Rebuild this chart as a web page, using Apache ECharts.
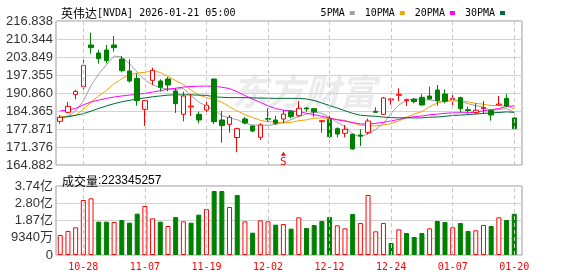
<!DOCTYPE html>
<html>
<head>
<meta charset="utf-8">
<title>英伟达 日K</title>
<script src="https://cdn.jsdelivr.net/npm/echarts@6/dist/echarts.min.js"></script>
<style>
    html, body { margin: 0; padding: 0; background: #fff; }
    #main { width: 578px; height: 276px; }
</style>
</head>
<body>
<div id="main"></div>
<script type="text/javascript">
    // 交易日
    var dates = ['10-23','10-24','10-27','10-28','10-29','10-30','10-31','11-03','11-04','11-05',
        '11-06','11-07','11-10','11-11','11-12','11-13','11-14','11-17','11-18','11-19',
        '11-20','11-21','11-24','11-25','11-26','11-28','12-01','12-02','12-03','12-04',
        '12-05','12-08','12-09','12-10','12-11','12-12','12-15','12-16','12-17','12-18',
        '12-19','12-22','12-23','12-24','12-26','12-29','12-30','12-31','01-02','01-05',
        '01-06','01-07','01-08','01-09','01-12','01-13','01-14','01-15','01-16','01-20'];
    var xTickLabels = ['10-28','11-07','11-19','12-02','12-12','12-24','01-07','01-20'];

    // K线 [开, 收, 低, 高]
    var kData = [
        [180.64,182.08,179.80,182.92],[183.89,186.05,183.53,187.61],[190.38,191.46,188.58,191.94],
        [193.15,200.84,192.06,203.13],[208.18,207.22,205.05,212.63],[205.29,203.25,201.45,206.38],
        [206.38,202.53,201.57,208.18],[208.18,207.22,205.77,211.43],[203.13,198.92,198.32,204.21],
        [198.80,195.19,194.59,203.01],[196.15,188.08,186.29,197.96],[184.97,188.15,178.96,188.40],
        [195.43,199.04,193.75,200.00],[195.19,192.91,191.34,195.79],[195.91,193.75,191.46,196.64],
        [191.58,187.01,183.65,192.55],[183.17,189.78,180.64,191.34],[185.81,186.17,182.56,190.50],
        [183.17,181.12,179.92,184.13],[184.73,186.41,182.92,187.73],[195.91,180.52,179.68,196.00],
        [181.12,179.08,172.94,184.37],[179.56,182.08,176.55,182.92],[174.80,178.00,169.50,178.30],
        [181.48,180.04,179.57,182.20],[178.96,177.15,176.68,179.10],[174.88,179.31,173.90,179.93],
        [181.60,181.40,180.50,185.34],[181.12,179.93,179.31,182.67],[181.48,183.28,179.93,184.73],
        [184.30,182.31,181.73,184.73],[182.68,185.33,182.32,187.98],[185.45,185.09,184.13,185.81],
        [185.21,184.01,182.32,185.40],[180.52,180.88,176.55,181.12],[181.36,175.11,174.62,182.80],
        [177.99,176.07,174.86,178.47],[176.31,177.75,174.86,179.31],[175.95,170.66,170.42,176.31],
        [175.71,175.35,171.74,177.75],[176.55,180.76,175.95,181.60],[184.25,183.89,183.80,185.69],
        [183.17,189.06,182.92,189.42],[188.34,188.70,186.65,188.94],[190.02,190.38,187.98,192.55],
        [188.10,188.46,186.17,188.82],[188.58,187.73,187.13,189.06],[189.30,186.53,186.40,190.50],
        [189.78,188.70,188.34,193.15],[191.94,188.12,186.29,193.75],[190.50,187.90,187.13,192.19],
        [188.58,188.94,186.53,190.98],[189.18,185.21,183.77,189.54],[184.85,184.55,183.53,185.93],
        [183.77,184.65,183.28,187.13],[185.21,185.57,183.28,187.98],[184.49,182.92,180.88,184.97],
        [186.53,186.89,186.40,189.78],[188.94,186.17,185.69,190.50],[181.84,177.99,177.75,182.08]
    ];

    // 成交量(股)
    var volumes = [108300000,129900000,149800000,297800000,306800000,180500000,180500000,178700000,189500000,175100000,
        223800000,265300000,198500000,180500000,157000000,205800000,182300000,175100000,218400000,249100000,
        346500000,346500000,259900000,324900000,182300000,120900000,187700000,182300000,164200000,167800000,
        142600000,204000000,146200000,162400000,184100000,205800000,160600000,144400000,222000000,173300000,
        324900000,128100000,173300000,65000000,139000000,119100000,97500000,119100000,144400000,184100000,
        178700000,149800000,173300000,129900000,133600000,162400000,157000000,204000000,189500000,223345257];
    var latestVolume = 223345257;

    // 均线
    var ma5 = [181.90,182.50,184.30,188.00,193.53,197.76,201.06,204.21,203.83,201.42,
        198.39,195.48,193.85,192.64,192.36,192.14,192.50,189.92,187.57,186.10,
        184.80,182.66,181.84,181.22,179.94,179.27,179.32,179.18,179.57,180.21,
        181.25,182.45,183.19,184.00,183.52,182.08,180.23,178.76,176.09,174.99,
        176.12,177.68,179.94,183.55,186.56,188.10,188.87,188.36,188.36,187.90,
        187.83,188.07,187.81,186.99,186.29,185.79,184.58,184.92,185.23,183.91];
    var ma10 = [182.25,182.50,182.90,184.90,187.60,189.80,191.80,194.20,196.00,197.48,
        198.08,198.27,199.03,198.24,196.89,195.27,193.99,191.89,190.11,189.23,
        188.47,187.58,185.88,184.39,183.02,182.04,180.99,180.51,180.39,180.08,
        180.26,180.88,181.18,181.79,181.87,181.67,181.34,180.98,180.05,179.26,
        179.10,178.96,179.35,179.82,180.77,182.11,183.27,184.15,185.96,187.23,
        187.97,188.47,188.09,187.68,187.10,186.81,186.33,186.37,186.11,185.10];
    var ma20 = [184.40,184.70,185.30,186.60,187.60,188.30,188.90,189.40,189.80,190.10,
        190.40,190.70,191.20,191.70,192.20,192.60,193.00,193.20,193.30,193.35,
        193.27,192.93,192.46,191.31,189.96,188.65,187.49,186.20,185.25,184.65,
        184.36,184.23,183.53,183.09,182.45,181.85,181.16,180.74,180.22,179.67,
        179.68,179.92,180.27,180.80,181.32,181.89,182.31,182.56,183.00,183.24,
        183.53,183.71,183.72,183.75,183.94,184.46,184.80,185.26,186.03,186.17];
    var ma30 = [182.00,182.30,182.80,183.40,184.30,185.30,186.20,187.00,187.70,188.20,
        188.70,189.10,189.50,189.80,190.10,190.20,190.20,190.20,190.10,190.00,
        189.50,189.30,189.20,189.20,189.20,189.10,189.00,189.00,188.90,188.93,
        188.94,188.91,188.70,188.14,187.26,186.32,185.44,184.46,183.52,182.85,
        182.61,182.47,182.14,182.00,181.89,181.94,181.87,181.88,182.13,182.19,
        182.44,182.77,182.87,183.09,183.25,183.53,183.65,183.83,184.04,183.86];

    // 信号点
    var signals = [{date: '12-04', price: 168.9, text: 'S'}];

    var priceMin = 164.882, priceMax = 216.838, priceStep = 6.4945;
    var volMax = 373600000, volStep = 93400000;

    var UP = '#ff0000', DOWN = '#008000';
    var monoFont = "'DejaVu Sans Mono', 'Noto Sans CJK SC', monospace";
    var sansFont = "'Liberation Sans', 'Noto Sans CJK SC', sans-serif";

    // 成交量颜色按收盘涨跌
    var volData = volumes.map(function (v, i) {
        var up = i === 0 ? kData[i][1] >= kData[i][0] : kData[i][1] >= kData[i - 1][1];
        return {
            value: v,
            itemStyle: up ? {color: '#fff', borderColor: UP, borderWidth: 1}
                          : {color: DOWN, borderColor: DOWN, borderWidth: 1}
        };
    });

    function volLabel(v) {
        if (v === 0) return '0';
        if (v >= 1e8) return (v / 1e8).toFixed(2) + '亿';
        return Math.round(v / 1e4) + '万';
    }

    var dashLines = {
        silent: true,
        symbol: 'none',
        label: {show: false},
        lineStyle: {color: '#c8c8c8', type: [4, 3], width: 1},
        data: xTickLabels.map(function (d) { return {xAxis: d}; })
    };

    function maSeries(name, data, color) {
        return {
            name: name, type: 'line', data: data,
            xAxisIndex: 1, yAxisIndex: 1,
            symbol: 'none', smooth: false, z: 2,
            lineStyle: {color: color, width: 1},
            itemStyle: {color: color}
        };
    }

    var myChart = echarts.init(document.getElementById('main'), null, {renderer: 'canvas'});

    var option = {
        animation: false,
        backgroundColor: '#fff',
        title: [{
            left: 56, top: 2,
            text: '{c|英伟达}{m|[NVDA] 2026-01-21 05:00}',
            textStyle: {
                fontWeight: 'normal',
                rich: {
                    c: {fontFamily: 'Noto Sans CJK SC', fontSize: 12, fontWeight: 'normal', color: '#000'},
                    m: {fontFamily: monoFont, fontSize: 10, fontWeight: 'normal', color: '#000'}
                }
            }
        }, {
            left: 57, top: 170,
            text: '{c|成交量}{m|:' + latestVolume + '}',
            textStyle: {
                fontWeight: 'normal',
                rich: {
                    c: {fontFamily: 'Noto Sans CJK SC', fontSize: 12, fontWeight: 'normal', color: '#000'},
                    m: {fontFamily: sansFont, fontSize: 12, fontWeight: 'normal', color: '#000'}
                }
            }
        }],
        legend: {
            top: 3, right: 68,
            align: 'right',
            icon: 'rect',
            itemWidth: 5, itemHeight: 4, itemGap: 10,
            textStyle: {fontFamily: monoFont, fontSize: 10, color: '#000'},
            data: ['5PMA', '10PMA', '20PMA', '30PMA']
        },
        graphic: [{
            type: 'text', left: 232, top: 73, z: 0, silent: true,
            style: {
                text: '东方财富',
                font: 'italic bold 36px "Noto Sans CJK SC"',
                fill: '#ebebee'
            }
        }],
        grid: [
            {left: 56, top: 21, width: 466, height: 144, show: true, borderColor: '#999', borderWidth: 1},
            {left: 56.4, top: 21, width: 461.7, height: 144},
            {left: 56, top: 186, width: 466, height: 69, show: true, borderColor: '#999', borderWidth: 1},
            {left: 56.4, top: 186, width: 461.7, height: 69}
        ],
        xAxis: [
            {type: 'category', gridIndex: 0, data: dates, show: false},
            {type: 'category', gridIndex: 1, data: dates, boundaryGap: true, show: false},
            {type: 'category', gridIndex: 2, data: dates, show: false},
            {
                type: 'category', gridIndex: 3, data: dates, boundaryGap: true,
                axisLine: {show: false}, axisTick: {show: false}, splitLine: {show: false},
                axisLabel: {
                    color: UP, fontFamily: monoFont, fontSize: 10, margin: 7,
                    interval: function (i, v) { return xTickLabels.indexOf(v) >= 0; }
                }
            }
        ],
        yAxis: [
            {
                type: 'value', gridIndex: 0, min: priceMin, max: priceMax, interval: priceStep,
                axisLine: {show: false}, axisTick: {show: false},
                axisLabel: {color: '#333', fontFamily: sansFont, fontSize: 13, margin: 3,
                    formatter: function (v) { return v.toFixed(3); }},
                splitLine: {show: true, lineStyle: {color: '#d2d2d2', width: 1}}
            },
            {type: 'value', gridIndex: 1, min: priceMin, max: priceMax, show: false, splitLine: {show: false}},
            {
                type: 'value', gridIndex: 2, min: 0, max: volMax, interval: volStep,
                axisLine: {show: false}, axisTick: {show: false},
                axisLabel: {color: '#333', fontFamily: sansFont, fontSize: 13, margin: 3, formatter: volLabel},
                splitLine: {show: true, lineStyle: {color: '#d2d2d2', width: 1}}
            },
            {type: 'value', gridIndex: 3, min: 0, max: volMax, show: false, splitLine: {show: false}}
        ],
        series: [
            maSeries('5PMA', ma5, '#a0a0a0'),
            maSeries('10PMA', ma10, '#f5a300'),
            maSeries('20PMA', ma20, '#ff00ff'),
            maSeries('30PMA', ma30, '#006b33'),
            {
                name: 'K', type: 'candlestick', data: kData,
                xAxisIndex: 1, yAxisIndex: 1, z: 3,
                barWidth: 5,
                itemStyle: {color: '#fff', color0: DOWN, borderColor: UP, borderColor0: DOWN, borderWidth: 1},
                markLine: dashLines,
                markPoint: {
                    silent: true,
                    symbol: 'triangle', symbolSize: [5, 4],
                    itemStyle: {color: UP},
                    label: {show: true, position: 'bottom', distance: 1, color: UP,
                        fontFamily: monoFont, fontSize: 11,
                        formatter: function (p) { return p.data.text; }},
                    data: signals.map(function (s) { return {coord: [s.date, s.price], text: s.text}; })
                }
            },
            {
                name: 'VOL', type: 'bar', data: volData,
                xAxisIndex: 3, yAxisIndex: 3, barWidth: 5,
                markLine: dashLines
            }
        ]
    };
    myChart.setOption(option);
</script>
</body>
</html>
